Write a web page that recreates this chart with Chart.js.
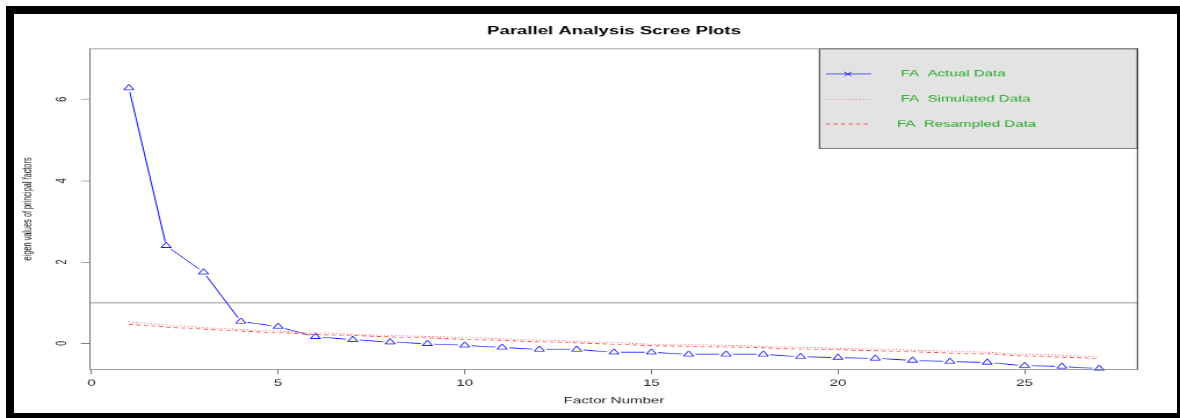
<!DOCTYPE html>
<html><head><meta charset="utf-8">
<script src="https://cdn.jsdelivr.net/npm/chart.js@4/dist/chart.umd.min.js"></script>
<style>
html,body{margin:0;padding:0;background:#fff;overflow:hidden;width:1180px;height:418px;}
#wrap{position:absolute;left:0;top:0;width:1017px;height:597px;transform:scale(1.160275,0.700168);transform-origin:0 0;}
#frame{position:absolute;left:6px;top:6px;width:1179px;height:415px;border:8px solid #000;box-sizing:border-box;pointer-events:none;}
</style></head><body>
<div id="wrap"><canvas id="c" width="1017" height="597"></canvas></div>
<div id="frame"></div>
<script>
const chartTitle = 'Parallel Analysis Scree Plots';
const xAxisTitle = 'Factor Number';
const yAxisTitle = 'eigen values of principal factors';
const seriesNames = ['FA  Actual Data', 'FA  Simulated Data', 'FA  Resampled Data'];
const factors = [1,2,3,4,5,6,7,8,9,10,11,12,13,14,15,16,17,18,19,20,21,22,23,24,25,26,27];
const actualData = [6.28,2.40,1.75,0.54,0.41,0.16,0.09,0.03,-0.01,-0.05,-0.10,-0.15,-0.15,-0.22,-0.22,-0.27,-0.27,-0.27,-0.33,-0.35,-0.37,-0.42,-0.45,-0.47,-0.55,-0.57,-0.62];
const simulatedData = [0.53,0.45,0.39,0.34,0.30,0.26,0.22,0.19,0.17,0.15,0.11,0.08,0.05,0.02,-0.02,-0.03,-0.05,-0.07,-0.10,-0.12,-0.14,-0.17,-0.19,-0.22,-0.27,-0.29,-0.33];
const resampledData = [0.47,0.40,0.35,0.30,0.26,0.22,0.19,0.16,0.13,0.10,0.07,0.04,0.01,-0.02,-0.06,-0.07,-0.09,-0.11,-0.14,-0.16,-0.18,-0.21,-0.24,-0.26,-0.31,-0.34,-0.37];
const xTickValues = [0,5,10,15,20,25];
const yTickValues = [0,2,4,6];
const referenceLine = 1;
const xRange = [-0.04, 28.04];
const yRange = [-0.64, 7.25];

const FONT = '"Liberation Sans", Arial, sans-serif';
const toXY = arr => factors.map((f, i) => ({x: f, y: arr[i]}));

const BLUE = '#0000ff', RED = '#ff2020', GREEN = '#22aa22';
const legendStyles = [
  {color: BLUE, dash: [], cross: true},
  {color: RED, dash: [1, 2.2]},
  {color: RED, dash: [3.5, 3]}
];

const refLinePlugin = {
  id: 'refLine',
  beforeDatasetsDraw(chart) {
    const {ctx, chartArea: a, scales: {y}} = chart;
    const py = y.getPixelForValue(referenceLine);
    ctx.save();
    ctx.strokeStyle = '#bdbdbd';
    ctx.lineWidth = 2.5;
    ctx.beginPath(); ctx.moveTo(a.left, py); ctx.lineTo(a.right, py); ctx.stroke();
    ctx.restore();
  }
};

const boxLegendPlugin = {
  id: 'boxLegend',
  afterDraw(chart) {
    const {ctx, chartArea: a} = chart;
    ctx.save();
    ctx.lineWidth = 1;
    ctx.strokeStyle = '#888';
    ctx.beginPath(); ctx.moveTo(a.left, a.top + 0.5); ctx.lineTo(a.right, a.top + 0.5); ctx.stroke();
    const bx = 705.8, by = a.top, bw = a.right - bx, bh = 143.5;
    ctx.fillStyle = '#e3e3e3';
    ctx.fillRect(bx, by, bw, bh);
    ctx.strokeStyle = '#333';
    ctx.strokeRect(bx + 0.5, by + 0.5, bw - 1, bh - 1);
    ctx.beginPath(); ctx.moveTo(a.right - 0.5, a.top); ctx.lineTo(a.right - 0.5, a.bottom); ctx.stroke();
    const rows = [36.4, 72.5, 107.8];
    const textX = [70.5, 70.5, 67.3];
    ctx.font = '13px ' + FONT;
    ctx.textBaseline = 'middle';
    ctx.textAlign = 'left';
    seriesNames.forEach((name, i) => {
      const st = legendStyles[i];
      const ly = by + rows[i];
      ctx.strokeStyle = st.color;
      ctx.lineWidth = 1;
      ctx.setLineDash(st.dash);
      ctx.beginPath(); ctx.moveTo(bx + 6.1, ly); ctx.lineTo(bx + 44.9, ly); ctx.stroke();
      ctx.setLineDash([]);
      if (st.cross) {
        const cx = bx + 25;
        ctx.beginPath();
        ctx.moveTo(cx - 3, ly - 3); ctx.lineTo(cx + 3, ly + 3);
        ctx.moveTo(cx - 3, ly + 3); ctx.lineTo(cx + 3, ly - 3);
        ctx.stroke();
      }
      ctx.fillStyle = GREEN;
      ctx.fillText(name, bx + textX[i], ly);
    });
    ctx.restore();
  }
};

new Chart(document.getElementById('c'), {
  type: 'line',
  data: {
    datasets: [
      {label: seriesNames[0], data: toXY(actualData), showLine: false, pointStyle: 'triangle', pointRadius: 5,
       pointBorderColor: BLUE, pointBackgroundColor: 'rgba(0,0,0,0)', pointBorderWidth: 1, clip: false},
      {label: seriesNames[1], data: toXY(simulatedData), borderColor: RED, borderWidth: 1, borderDash: [1, 2.2], pointRadius: 0, fill: false, clip: false},
      {label: seriesNames[2], data: toXY(resampledData), borderColor: RED, borderWidth: 1, borderDash: [3.5, 3], pointRadius: 0, fill: false, clip: false},
      {label: 'gap', data: toXY(actualData), showLine: false, pointStyle: 'circle', pointRadius: 6,
       pointBackgroundColor: '#ffffff', pointBorderWidth: 0, pointBorderColor: '#ffffff', clip: false},
      {label: seriesNames[0] + ' line', data: toXY(actualData), borderColor: BLUE, borderWidth: 1, pointRadius: 0, fill: false, clip: false}
    ]
  },
  options: {
    responsive: false,
    devicePixelRatio: 1,
    animation: false,
    events: [],
    layout: {padding: {left: 0, top: 0, right: 36.2, bottom: 0}},
    plugins: {
      legend: {display: false},
      tooltip: {enabled: false},
      title: {display: true, text: chartTitle, fullSize: false, color: '#000',
              font: {family: FONT, size: 16, weight: 'bold'}, padding: {top: 35.4, bottom: 14.7}}
    },
    scales: {
      x: {
        type: 'linear', position: 'bottom', min: xRange[0], max: xRange[1],
        afterBuildTicks: s => { s.ticks = xTickValues.map(v => ({value: v})); },
        afterFit: s => { s.height = 69.5; },
        ticks: {font: {family: FONT, size: 13}, color: '#222', padding: 5, maxRotation: 0, autoSkip: false},
        grid: {display: true, drawOnChartArea: false, drawTicks: true, tickLength: 7, color: '#777', z: 1},
        border: {display: true, color: '#888', width: 1, z: 1},
        title: {display: true, text: xAxisTitle, color: '#222', font: {family: FONT, size: 13}, padding: {top: 0, bottom: 17.2}}
      },
      y: {
        type: 'linear', position: 'left', min: yRange[0], max: yRange[1],
        afterBuildTicks: s => { s.ticks = yTickValues.map(v => ({value: v})); },
        afterFit: s => { s.width = 77.6; },
        ticks: {font: {family: FONT, size: 13}, color: '#222', padding: 12.3, minRotation: 90, maxRotation: 90, crossAlign: 'center', autoSkip: false},
        grid: {display: true, drawOnChartArea: false, drawTicks: true, tickLength: 7.8, color: '#777', z: 1},
        border: {display: true, color: '#777', width: 1, z: 1},
        title: {display: true, text: yAxisTitle, color: '#111', font: {family: FONT, size: 10.5}, padding: {top: 17.4, bottom: 0}}
      }
    }
  },
  plugins: [refLinePlugin, boxLegendPlugin]
});
</script>
</body></html>
